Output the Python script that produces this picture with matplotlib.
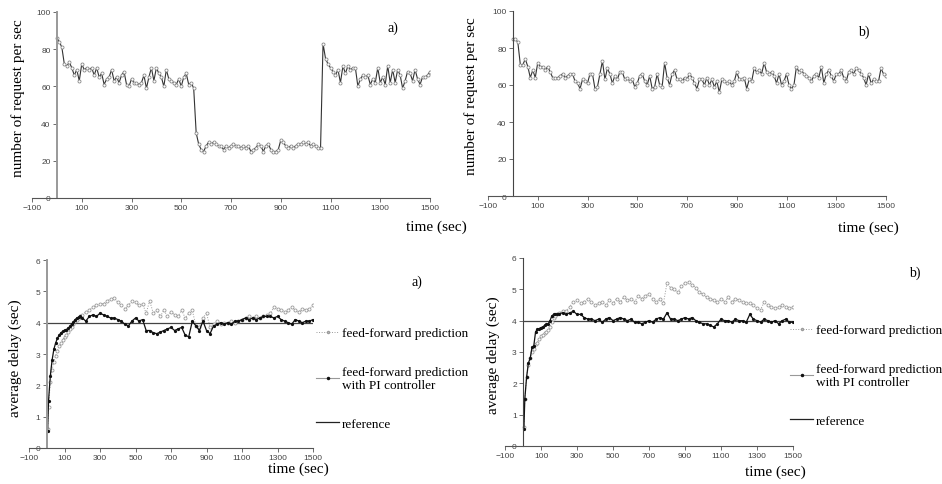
import numpy as np
import matplotlib.pyplot as plt
from matplotlib.lines import Line2D

# ---- data ----
t_req = np.arange(0, 1501, 10)

req_a = [86, 84, 81, 72, 71, 73, 70, 66, 69, 63, 72, 69, 70, 69, 70, 66, 70, 65, 67, 61,
         64, 65, 69, 63, 65, 62, 66, 68, 61, 60, 64, 62, 62, 61, 62, 66, 59, 65, 70, 63,
         70, 67, 65, 60, 69, 64, 63, 62, 61, 64, 60, 65, 67, 61, 62, 59, 35, 29, 26, 25,
         28, 30, 29, 30, 29, 28, 28, 26, 28, 27, 28, 29, 28, 28, 27, 28, 27, 28, 25, 26,
         27, 29, 28, 25, 28, 29, 26, 25, 25, 26, 31, 30, 28, 27, 28, 27, 28, 29, 29, 30,
         29, 30, 28, 29, 28, 27, 27, 83, 75, 72, 70, 68, 66, 69, 62, 71, 67, 71, 69, 70,
         70, 60, 64, 66, 65, 66, 61, 64, 62, 70, 62, 65, 61, 71, 62, 69, 62, 69, 66, 59,
         63, 68, 67, 63, 69, 64, 61, 65, 65, 66, 68]

req_b = [85, 85, 83, 71, 71, 74, 70, 64, 68, 64, 72, 70, 70, 68, 70, 67, 64, 64, 64, 65,
         66, 64, 65, 66, 66, 62, 61, 58, 63, 62, 61, 66, 66, 58, 59, 66, 73, 63, 69, 66,
         61, 65, 63, 67, 67, 63, 64, 62, 63, 59, 61, 65, 66, 62, 60, 65, 58, 59, 66, 60,
         59, 72, 64, 60, 66, 68, 63, 63, 62, 64, 63, 66, 64, 61, 58, 63, 63, 60, 64, 60,
         63, 59, 62, 56, 63, 62, 61, 62, 60, 62, 67, 63, 63, 64, 58, 63, 62, 69, 67, 68,
         66, 72, 67, 66, 67, 65, 61, 66, 60, 62, 66, 60, 58, 60, 70, 67, 68, 66, 65, 64,
         62, 65, 66, 64, 70, 61, 66, 68, 65, 62, 66, 66, 68, 64, 62, 67, 68, 66, 69, 68,
         66, 64, 60, 66, 61, 63, 62, 62, 69, 66, 65]

t_delay = np.concatenate([[5], np.arange(10, 200, 10), np.arange(200, 1501, 20)])

ff_a = [0.6, 1.3, 2.1, 2.5, 2.75, 2.95, 3.1, 3.25, 3.35, 3.45, 3.55, 3.6, 3.7, 3.8, 3.85,
        3.95, 4.05, 4.1, 4.15, 4.2,
        4.25, 4.35, 4.4, 4.5, 4.55, 4.6, 4.6, 4.7, 4.75, 4.8, 4.65, 4.55, 4.45, 4.55, 4.7,
        4.65, 4.55, 4.6, 4.3, 4.7, 4.3, 4.4, 4.2, 4.4, 4.2, 4.35, 4.25, 4.2, 4.4, 4.15,
        4.3, 4.4, 3.9, 3.85, 4.15, 4.3, 3.85, 3.95, 4.05, 3.95, 4.0, 4.0, 4.05, 4.0, 4.05,
        4.1, 4.15, 4.2, 4.15, 4.2, 4.15, 4.2, 4.25, 4.3, 4.5, 4.45, 4.4, 4.35, 4.4, 4.5,
        4.4, 4.35, 4.45, 4.4, 4.45, 4.55]

pi_a = [0.55, 1.5, 2.3, 2.8, 3.15, 3.35, 3.5, 3.6, 3.68, 3.72, 3.76, 3.78, 3.82, 3.88, 3.95,
        4.02, 4.1, 4.15, 4.18, 4.2,
        4.15, 4.05, 4.2, 4.25, 4.2, 4.3, 4.25, 4.2, 4.15, 4.15, 4.1, 4.05, 3.95, 3.9, 4.05,
        4.15, 4.05, 4.1, 3.75, 3.75, 3.68, 3.65, 3.7, 3.75, 3.8, 3.85, 3.75, 3.8, 3.85, 3.6,
        3.55, 4.05, 3.9, 3.75, 4.05, 3.75, 3.65, 3.9, 3.95, 4.0, 3.95, 4.0, 3.95, 4.05, 4.05,
        4.1, 4.15, 4.1, 4.15, 4.1, 4.15, 4.2, 4.2, 4.2, 4.15, 4.2, 4.1, 4.05, 4.0, 3.95,
        4.1, 4.05, 4.0, 4.05, 4.05, 4.1]

ff_b = [0.6, 1.5, 2.2, 2.6, 2.8, 3.0, 3.1, 3.25, 3.3, 3.4, 3.5, 3.55, 3.6, 3.65, 3.7,
        3.8, 3.95, 4.1, 4.15, 4.2,
        4.25, 4.3, 4.3, 4.45, 4.6, 4.65, 4.55, 4.6, 4.7, 4.6, 4.5, 4.55, 4.6, 4.5, 4.65,
        4.55, 4.7, 4.6, 4.75, 4.65, 4.7, 4.6, 4.8, 4.7, 4.8, 4.85, 4.7, 4.6, 4.7, 4.55,
        5.2, 5.05, 5.0, 4.9, 5.1, 5.2, 5.25, 5.15, 5.05, 4.9, 4.85, 4.75, 4.7, 4.65, 4.6,
        4.7, 4.6, 4.75, 4.6, 4.7, 4.65, 4.6, 4.55, 4.55, 4.5, 4.4, 4.35, 4.6, 4.5, 4.45,
        4.4, 4.45, 4.5, 4.45, 4.4, 4.45]

pi_b = [0.55, 1.5, 2.2, 2.65, 2.8, 3.15, 3.2, 3.65, 3.72, 3.75, 3.78, 3.8, 3.85, 3.88, 3.9,
        4.0, 4.15, 4.2, 4.2, 4.2,
        4.22, 4.25, 4.2, 4.25, 4.3, 4.2, 4.2, 4.1, 4.05, 4.05, 4.0, 4.05, 3.95, 4.05, 4.1,
        4.0, 4.05, 4.1, 4.05, 4.0, 4.05, 3.95, 3.95, 3.9, 3.95, 4.0, 3.95, 4.05, 4.1, 4.05,
        4.25, 4.05, 4.05, 4.0, 4.05, 4.1, 4.05, 4.1, 4.0, 3.95, 3.9, 3.9, 3.85, 3.8, 3.9,
        4.05, 4.0, 4.0, 3.95, 4.05, 4.0, 4.0, 3.95, 4.2, 4.05, 4.0, 3.95, 4.05, 4.0, 3.95,
        4.0, 3.9, 4.0, 4.05, 3.95, 3.95]

reference = 4
x_ticks = np.arange(-100, 1501, 200)

serif = ['Liberation Serif', 'DejaVu Serif']
tickfont = ['Liberation Sans Narrow', 'Liberation Sans', 'DejaVu Sans']

W, H = 942, 485
fig = plt.figure(figsize=(W / 100, H / 100), dpi=100)


def axes_px(x0, x1, ytop, ybot):
    return fig.add_axes([x0 / W, 1 - ybot / H, (x1 - x0) / W, (ybot - ytop) / H])


def style(ax, ymax, yticks, spine_col, spine_lw):
    ax.set_xlim(-100, 1500)
    ax.set_ylim(0, ymax)
    ax.set_xticks(x_ticks)
    ax.set_yticks(yticks)
    ax.spines['top'].set_visible(False)
    ax.spines['right'].set_visible(False)
    ax.spines['left'].set_position(('data', 0))
    ax.spines['left'].set_color(spine_col)
    ax.spines['left'].set_linewidth(spine_lw)
    ax.spines['bottom'].set_color('#555555')
    ax.spines['bottom'].set_linewidth(0.8)
    ax.tick_params(direction='out', length=3, width=0.6, color='#555555',
                   labelsize=6, labelcolor='#444444', pad=1.5)
    for lab in ax.get_xticklabels() + ax.get_yticklabels():
        lab.set_family(tickfont)
    ax.patch.set_alpha(0)


# top panels: request rate
for (x0, x1, ytop, ybot), req, tag, scol, slw, tagpos, ylab, xlab in [
        ((32, 430, 13, 199), req_a, 'a)', '#999999', 1.4, (0.907, 0.919),
         (-0.018, 0.545), (1.015, -0.118)),
        ((488, 886, 12, 197), req_b, 'b)', '#444444', 0.8, (0.945, 0.892),
         (-0.025, 0.545), (0.955, -0.13))]:
    ax = axes_px(x0, x1, ytop, ybot)
    ax.plot(t_req, req, color='#333333', lw=0.8, marker='o', ms=2.2,
            mfc='white', mec='#888888', mew=0.6)
    style(ax, 100, np.arange(0, 101, 20), scol, slw)
    ax.set_ylabel('number of request per sec', family=serif, fontsize=11)
    ax.yaxis.set_label_coords(*ylab)
    ax.set_xlabel('time (sec)', family=serif, fontsize=11)
    ax.xaxis.set_label_coords(*xlab)
    ax.text(*tagpos, tag, transform=ax.transAxes, family=serif, fontsize=10,
            ha='center', va='center')

# bottom panels: average delay
for (x0, x1, ytop, ybot), ff, pi, tag, scol, slw, tagpos, xlab, ylab, legxy in [
        ((29, 313, 261, 449), ff_a, pi_a, 'a)', '#999999', 1.4, (1.366, 0.888),
         (0.95, -0.072), (-0.025, 0.485), (316, 328)),
        ((505, 793, 259, 447), ff_b, pi_b, 'b)', '#444444', 0.8, (1.424, 0.926),
         (0.9375, -0.101), (-0.017, 0.489), (790, 325))]:
    ax = axes_px(x0, x1, ytop, ybot)
    ax.hlines(reference, 0, 1500, color='#444444', lw=0.9)
    ax.plot(t_delay, ff, color='#9a9a9a', lw=0.7, ls=':', marker='o', ms=2.2,
            mfc='white', mec='#9a9a9a', mew=0.6)
    ax.plot(t_delay, pi, color='#111111', lw=0.9, marker='o', ms=1.3,
            mfc='#111111', mec='#111111')
    style(ax, 6, np.arange(0, 7, 1), scol, slw)
    ax.set_ylabel('average delay (sec)', family=serif, fontsize=11)
    ax.yaxis.set_label_coords(*ylab)
    ax.set_xlabel('time (sec)', family=serif, fontsize=11)
    ax.xaxis.set_label_coords(*xlab)
    ax.text(*tagpos, tag, transform=ax.transAxes, family=serif, fontsize=10,
            ha='center', va='center', clip_on=False)
    handles = [
        Line2D([], [], color='#9a9a9a', lw=0.7, ls=':', marker='o', ms=1.5,
               mfc='white', mec='#9a9a9a', markevery=[1]),
        Line2D([], [], color='#999999', lw=0.8, marker='o', ms=1.5,
               mfc='#111111', mec='#111111', markevery=[1]),
        Line2D([], [], color='#222222', lw=0.9),
    ]
    labels = ['feed-forward prediction', 'feed-forward prediction\nwith PI controller',
              'reference']
    ax.legend(handles, labels, loc='upper left',
              bbox_to_anchor=(legxy[0] / W, 1 - legxy[1] / H),
              bbox_transform=fig.transFigure, frameon=False,
              prop={'family': serif, 'size': 9.5}, handlelength=1.75,
              handletextpad=0.2, labelspacing=2.0, borderpad=0, borderaxespad=0)

fig.savefig('out.png', dpi=100)
